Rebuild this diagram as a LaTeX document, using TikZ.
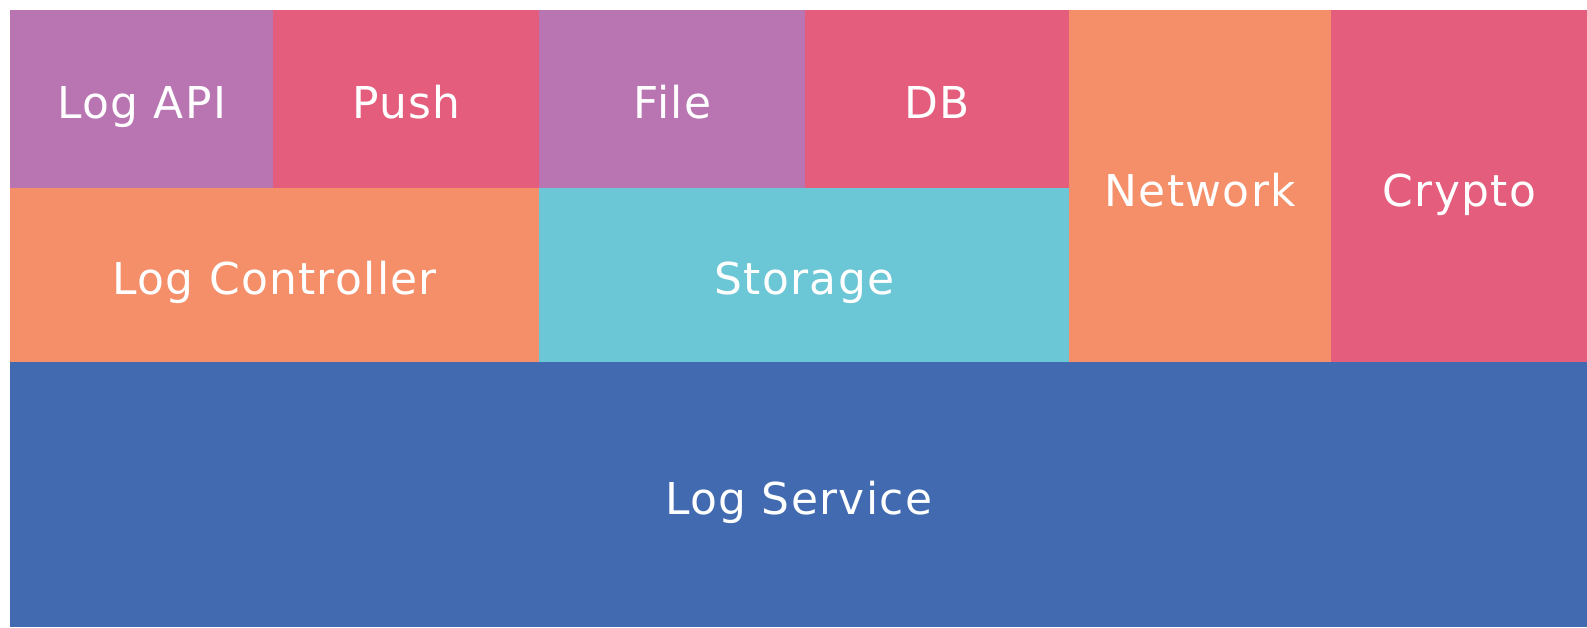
\documentclass[tikz,border=0pt]{standalone}
\usepackage{fontspec}
\setmainfont{DejaVu Sans}[LetterSpace=3]
\usetikzlibrary{positioning, calc}

\definecolor{lilac}{HTML}{B875B1}
\definecolor{rose}{HTML}{E45D7C}
\definecolor{peach}{HTML}{F58F6A}
\definecolor{teal}{HTML}{6BC6D5}
\definecolor{steel}{HTML}{416AB1}

\tikzset{
    block/.style={fill=#1, inner sep=0pt, anchor=north west, text=white,
        text height=22pt, text depth=0pt,
        font=\fontsize{25}{30}\selectfont}
}

\begin{document}
\begin{tikzpicture}[x=0.02cm, y=-0.02cm]
        \useasboundingbox (0,0) rectangle (1587,627);

        % top row
        \foreach \i/\x/\w/\name/\colour in {0/10/263/Log API/lilac, 1/273/266/Push/rose, 2/539/266/File/lilac, 3/805/264/DB/rose} {
            \node[block=\colour, minimum width=\w*0.02cm, minimum height=178*0.02cm] (top\i) at (\x,10) {\name};
        }

        % middle row
        \node[block=peach, minimum width=529*0.02cm, minimum height=174*0.02cm] (ctrl) at (10,188) {Log Controller};
        \node[block=teal, minimum width=530*0.02cm, minimum height=174*0.02cm] (store) at (539,188) {Storage};

        % tall ones on the right
        \node[block=peach, minimum width=262*0.02cm, minimum height=354*0.02cm] (net) at (1069,10) {Network};
        \node[block=rose, minimum width=256*0.02cm, minimum height=354*0.02cm] (crypto) at (1331,10) {Crypto};

        % base
        \node[block=steel, minimum width=1577*0.02cm, minimum height=265*0.02cm] (service) at (10,362) {Log Service};
    \end{tikzpicture}
\end{document}
